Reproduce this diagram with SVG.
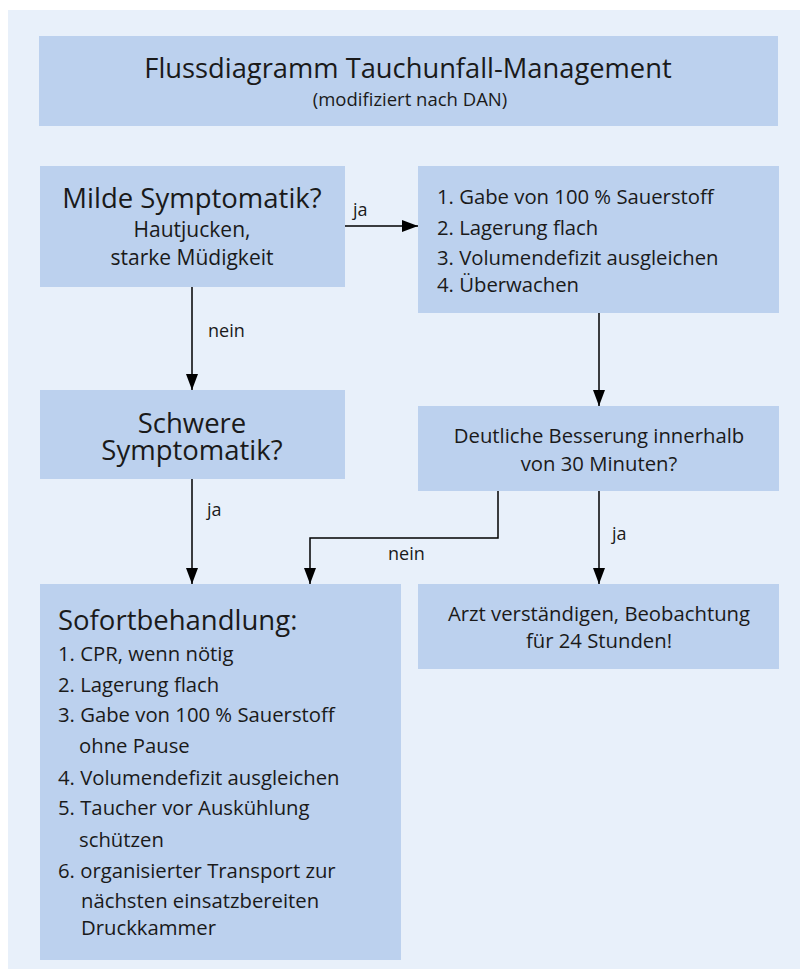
<svg xmlns="http://www.w3.org/2000/svg" width="800" height="969" viewBox="0 0 800 969">
<defs>
<style>
.bg{fill:#E8F0FA}
.box{fill:#BCD1EE}
text{font-family:"Open Sans","Noto Sans","DejaVu Sans",sans-serif;fill:#1a1a1a}
.c{text-anchor:middle}
.t1{font-size:27.3px}
.t2{font-size:18.5px}
.h{font-size:27.5px}
.m{font-size:20.3px}
.s{font-size:21px}
.l{font-size:18px}
.con{stroke:#000;stroke-width:1.5;fill:none}
</style>
<marker id="ah" viewBox="0 0 16 12" refX="16" refY="6" markerWidth="16" markerHeight="12" markerUnits="userSpaceOnUse" orient="auto">
<path d="M0,0 L16,6 L0,12 Z" fill="#000"/>
</marker>
</defs>
<rect class="bg" x="8" y="10" width="792" height="959"/>
<g id="title">
<rect class="box" x="39" y="36" width="739" height="90"/>
<text class="c t1" x="408" y="78">Flussdiagramm Tauchunfall-Management</text>
<text class="c t2" x="410" y="106">(modifiziert nach DAN)</text>
</g>
<g id="milde">
<rect class="box" x="40" y="166" width="305" height="121"/>
<text class="c h" x="192" y="208">Milde Symptomatik?</text>
<text class="c s" x="192" y="237">Hautjucken,<tspan x="192" y="265">starke Müdigkeit</tspan></text>
</g>
<g id="massnahmen">
<rect class="box" x="418" y="166" width="361" height="147"/>
<text class="m" x="437" y="204">1. Gabe von 100 % Sauerstoff<tspan x="437" y="235">2. Lagerung flach</tspan><tspan x="437" y="265">3. Volumendefizit ausgleichen</tspan><tspan x="437" y="292">4. Überwachen</tspan></text>
</g>
<g id="schwere">
<rect class="box" x="40" y="390" width="305" height="89"/>
<text class="c h" x="192" y="433">Schwere<tspan x="192" y="460">Symptomatik?</tspan></text>
</g>
<g id="besserung">
<rect class="box" x="418" y="406" width="361" height="85"/>
<text class="c m" x="599" y="443">Deutliche Besserung innerhalb<tspan x="599" y="471">von 30 Minuten?</tspan></text>
</g>
<g id="arzt">
<rect class="box" x="418" y="584" width="361" height="85"/>
<text class="c m" x="599" y="621">Arzt verständigen, Beobachtung<tspan x="599" y="648">für 24 Stunden!</tspan></text>
</g>
<g id="sofort">
<rect class="box" x="40" y="584" width="361" height="376"/>
<text class="h" x="58" y="630">Sofortbehandlung:</text>
<text class="m" x="58" y="661">1. CPR, wenn nötig<tspan x="58" y="692">2. Lagerung flach</tspan><tspan x="58" y="722">3. Gabe von 100 % Sauerstoff</tspan><tspan x="79" y="753">ohne Pause</tspan><tspan x="58" y="785">4. Volumendefizit ausgleichen</tspan><tspan x="58" y="815">5. Taucher vor Auskühlung</tspan><tspan x="79" y="847">schützen</tspan><tspan x="58" y="878">6. organisierter Transport zur</tspan><tspan x="81" y="908">nächsten einsatzbereiten</tspan><tspan x="81" y="935">Druckkammer</tspan></text>
</g>
<g id="connectors">
<path class="con" d="M345,226 H418" marker-end="url(#ah)"/>
<path class="con" d="M192,287 V390" marker-end="url(#ah)"/>
<path class="con" d="M192,479 V584" marker-end="url(#ah)"/>
<path class="con" d="M599,313 V406" marker-end="url(#ah)"/>
<path class="con" d="M599,491 V584" marker-end="url(#ah)"/>
<path class="con" d="M498,491 V538 H310 V584" marker-end="url(#ah)"/>
<text class="l" x="353" y="216">ja</text>
<text class="l" x="208" y="337">nein</text>
<text class="l" x="207" y="516">ja</text>
<text class="l" x="612" y="540">ja</text>
<text class="l" x="388" y="560">nein</text>
</g>
</svg>
